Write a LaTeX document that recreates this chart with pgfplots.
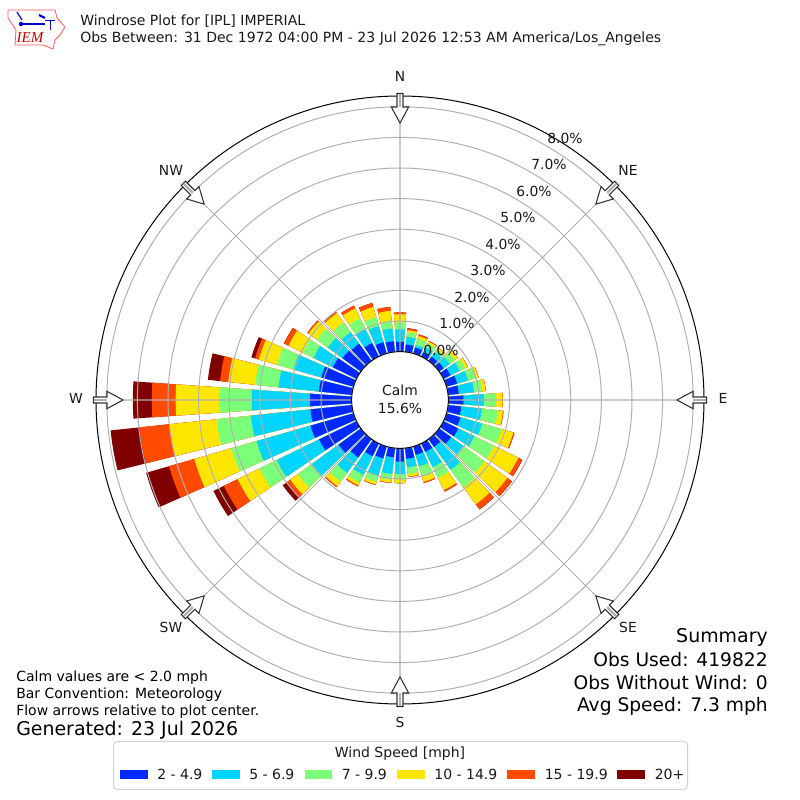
\documentclass[border=0pt]{standalone}
\usepackage{fontspec}
\setmainfont{DejaVu Sans}
\usepackage{pgfplots}
\pgfplotsset{compat=1.18}
\usepgfplotslibrary{polar}
\definecolor{cA}{HTML}{0028FF}
\definecolor{cB}{HTML}{00D4FF}
\definecolor{cC}{HTML}{7CFF79}
\definecolor{cD}{HTML}{FFE600}
\definecolor{cE}{HTML}{FF4A00}
\definecolor{cF}{HTML}{800000}
\definecolor{gridc}{HTML}{B0B0B0}
\def\rzero{1.582}
\newcommand\W[3]{%
  \pgfmathsetmacro\tA{446-#1}\pgfmathsetmacro\tB{448-#1}\pgfmathsetmacro\tC{450-#1}%
  \pgfmathsetmacro\tD{452-#1}\pgfmathsetmacro\tE{454-#1}%
  \pgfmathsetmacro\rr{#2+\rzero}%
  \edef\tmp{\noexpand\addplot[fill=#3,draw=none,forget plot] coordinates
    {(\tA,\rzero)(\tC,\rzero)(\tE,\rzero)(\tE,\rr)(\tD,\rr)(\tC,\rr)(\tB,\rr)(\tA,\rr)};}\tmp}
% direction, cumulative percent at the top of each speed class
\newcommand\Rose[7]{\W{#1}{#7}{cF}\W{#1}{#6}{cE}\W{#1}{#5}{cD}\W{#1}{#4}{cC}\W{#1}{#3}{cB}\W{#1}{#2}{cA}}
\newcommand\fs[1]{\fontsize{#1}{#1}\selectfont}
\newfontfamily\logofont{Liberation Serif}
\begin{document}
\begin{tikzpicture}
\path[use as bounding box] (0,0) rectangle (600pt,600pt);
\begin{polaraxis}[
  at={(300pt,300pt)}, anchor=center,
  scale only axis, width=456pt, height=456pt,
  xmin=0, xmax=360, ymin=0, ymax=9.935,
  xtick={0,45,...,315}, xticklabels={},
  ytick={1.582,2.582,3.582,4.582,5.582,6.582,7.582,8.582,9.582}, yticklabels={},
  grid=major, major grid style={draw=gridc,line width=0.75pt},
  tick style={draw=none}, axis line style={black,line width=0.75pt},
  y axis line style={draw=none},
  axis on top, clip=false]
\Rose{10}{.24}{.49}{.64}{.71}{.77}{.78}
\Rose{20}{.20}{.28}{.50}{.59}{.64}{.65}
\Rose{30}{.15}{.33}{.48}{.54}{.57}{.57}
\Rose{40}{.17}{.35}{.46}{.53}{.54}{.54}
\Rose{50}{.18}{.43}{.64}{.75}{.76}{.76}
\Rose{60}{.25}{.59}{.78}{.88}{.89}{.89}
\Rose{70}{.36}{.73}{.98}{1.08}{1.09}{1.09}
\Rose{80}{.35}{.85}{1.11}{1.23}{1.24}{1.24}
\Rose{90}{.49}{1.16}{1.56}{1.77}{1.78}{1.78}
\Rose{100}{.43}{1.11}{1.63}{1.80}{1.82}{1.82}
\Rose{110}{.47}{1.21}{1.87}{2.27}{2.31}{2.31}
\Rose{120}{.54}{1.12}{1.84}{2.72}{2.86}{2.87}
\Rose{130}{.48}{.97}{1.83}{2.75}{2.93}{2.94}
\Rose{140}{.31}{1.24}{1.94}{2.63}{2.83}{2.84}
\Rose{150}{.30}{.86}{1.25}{1.69}{1.75}{1.75}
\Rose{160}{.28}{.67}{1.02}{1.20}{1.24}{1.24}
\Rose{170}{.35}{.63}{.85}{.93}{.95}{.95}
\Rose{180}{.43}{.84}{1.00}{1.13}{1.14}{1.14}
\Rose{190}{.30}{.85}{1.04}{1.13}{1.15}{1.15}
\Rose{200}{.40}{.99}{1.20}{1.29}{1.31}{1.31}
\Rose{210}{.46}{1.14}{1.42}{1.52}{1.56}{1.56}
\Rose{220}{.74}{1.36}{1.71}{1.90}{1.94}{1.94}
\Rose{230}{.90}{1.97}{2.54}{2.85}{2.99}{3.16}
\Rose{240}{1.36}{2.90}{3.52}{4.32}{4.82}{5.20}
\Rose{250}{1.46}{3.29}{4.15}{5.41}{6.27}{7.05}
\Rose{260}{1.36}{3.32}{4.44}{5.99}{6.98}{7.93}
\Rose{270}{1.36}{3.26}{4.32}{5.75}{6.53}{7.15}
\Rose{280}{1.08}{2.41}{3.18}{4.06}{4.33}{4.73}
\Rose{290}{1.09}{2.04}{2.60}{3.22}{3.35}{3.47}
\Rose{300}{.86}{1.56}{1.95}{2.47}{2.63}{2.64}
\Rose{310}{.74}{1.33}{1.77}{2.11}{2.16}{2.16}
\Rose{320}{.69}{1.16}{1.55}{1.93}{1.98}{1.98}
\Rose{330}{.49}{1.00}{1.39}{1.75}{1.85}{1.85}
\Rose{340}{.38}{.93}{1.23}{1.58}{1.72}{1.72}
\Rose{350}{.35}{.77}{1.00}{1.35}{1.48}{1.48}
\Rose{360}{.32}{.73}{.96}{1.22}{1.28}{1.28}
\end{polaraxis}
\begin{scope}[shift={(0pt,600pt)},x=0.75pt,y=-0.75pt]
% calm circle
\draw[black,line width=0.75pt,fill=white] (400,400) circle [x radius=48.4,y radius=48.4];
\node[align=center,font=\fs{10.4},inner sep=0pt,text=black!90] at (400,399.5) {Calm\\[3pt]15.6\%};
% flow arrows
\foreach \a in {0,45,...,315}{
 \begin{scope}[shift={(400,400)},rotate=-\a]
  \draw[fill=white,draw=black!80,line width=0.8pt,line join=miter]
    (-3,-306.5)--(3,-306.5)--(3,-293)--(8.7,-293)--(0,-277)--(-8.7,-293)--(-3,-293)--cycle;
  \draw[gridc,line width=1.6pt] (0,-306)--(0,-293);
 \end{scope}}
% compass labels
\foreach \t/\x/\y in {N/400/76,NE/628/170,E/723/398,SE/628/627,S/400/722,SW/171/627,W/76/398,NW/171/170}
  \node[font=\fs{10.4},inner sep=0pt,text=black!90] at (\x,\y) {\t};
% radial labels
\foreach \t/\x/\y in {8.0/565/138,7.0/549/164,6.0/534/191,5.0/518/217,4.0/503/244,3.0/488/270,2.0/472/297,1.0/457/323,0.0/441/350}
  \node[font=\fs{10.4},inner sep=0pt,text=black!90] at (\x,\y) {\t\%};
% title
\node[anchor=west,font=\fs{10.52},inner sep=0pt,text=black!90] at (80,21) {Windrose Plot for [IPL] IMPERIAL};
\node[anchor=west,font=\fs{10.52},inner sep=0pt,text=black!90] at (80,38.5) {Obs Between: 31 Dec 1972 04:00 PM - 23 Jul 2026 12:53 AM America/Los\_Angeles};
% logo
\draw[red!65!white,line width=0.6pt,line join=round] (8,10)--(55,10)--(57,18)--(65,27)--(60,35)--(55,40)--(53,49)--(43,45)--(15,45)--(16,30)--(8,18)--cycle;
\draw[blue!85!black,line width=1.3pt] (23,24)--(45,24);
\draw[blue!85!black,line width=0.9pt] (17,12)--(22,20);
\draw[blue!85!black,line width=1.6pt] (39,15)--(45,18);
\draw[blue!85!black,line width=0.7pt] (45,20)--(55,20) (50,20)--(50,30);
\fill[blue!85!black] (21,24) circle [x radius=2.2,y radius=2.2];
\node[inner sep=0pt,text=red!75!black] at (30,38) {\logofont\fontsize{11.3}{12}\selectfont\itshape IEM};
% notes
\node[anchor=west,font=\fs{10.5},inner sep=0pt,text=black] at (16,677.5) {Calm values are < 2.0 mph};
\node[anchor=west,font=\fs{10.5},inner sep=0pt,text=black] at (16,694.5) {Bar Convention: Meteorology};
\node[anchor=west,font=\fs{10.5},inner sep=0pt,text=black] at (16,711.5) {Flow arrows relative to plot center.};
\node[anchor=west,font=\fs{14.2},inner sep=0pt,text=black] at (16,730.5) {Generated: 23 Jul 2026};
\node[anchor=east,font=\fs{14.2},inner sep=0pt,text=black] at (768,637.5) {Summary};
\node[anchor=east,font=\fs{14},inner sep=0pt,text=black] at (768,660) {Obs Used: 419822};
\node[anchor=east,font=\fs{14},inner sep=0pt,text=black] at (768,683) {Obs Without Wind: 0};
\node[anchor=east,font=\fs{14},inner sep=0pt,text=black] at (768,706) {Avg Speed: 7.3 mph};
% legend
\draw[black!18,line width=0.75pt,fill=white,rounded corners=3pt] (113.5,741.5) rectangle (687.5,789.5);
\node[font=\fs{10.5},inner sep=0pt,text=black!90] at (400,754) {Wind Speed [mph]};
\foreach \c/\xa/\xb/\t in {cA/119.5/147.5/2 - 4.9,cB/212/239.5/5 - 6.9,cC/304.6/332/7 - 9.9,cD/397/424.6/10 - 14.9,cE/506.7/535/15 - 19.9,cF/617/645/20+}{
  \fill[\c] (\xa,770) rectangle (\xb,779.5);
  \node[anchor=west,font=\fs{10.5},inner sep=0pt,text=black!90] at (\xb+9.5,774.5) {\t};}
\end{scope}
\end{tikzpicture}
\end{document}
